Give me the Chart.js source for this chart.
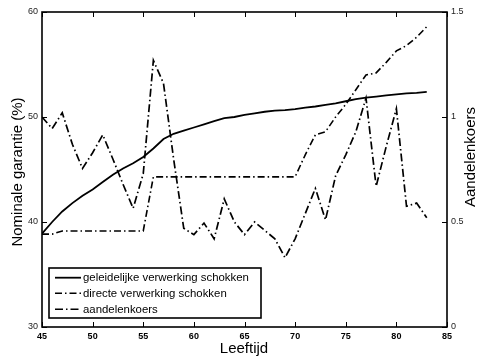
<!DOCTYPE html>
<html><head><meta charset="utf-8">
<script src="https://cdn.jsdelivr.net/npm/chart.js@4/dist/chart.umd.min.js"></script>
<style>html,body{margin:0;padding:0;background:#fff}#w{width:477px;height:358px}</style>
</head><body><div id="w"><canvas id="c" width="477" height="358"></canvas></div>
<script>
const ages = [45,46,47,48,49,50,51,52,53,54,55,56,57,58,59,60,61,62,63,64,65,66,67,68,69,70,71,72,73,74,75,76,77,78,79,80,81,82,83];
const geleidelijke = [38.9,40.0,41.0,41.8,42.5,43.1,43.8,44.5,45.1,45.6,46.2,47.0,47.9,48.4,48.7,49.0,49.3,49.6,49.9,50.0,50.2,50.35,50.5,50.6,50.65,50.75,50.9,51.0,51.15,51.3,51.5,51.7,51.85,51.95,52.05,52.15,52.25,52.3,52.4];
const directe = [38.85,38.85,39.15,39.15,39.15,39.15,39.15,39.15,39.15,39.15,39.15,44.3,44.3,44.3,44.3,44.3,44.3,44.3,44.3,44.3,44.3,44.3,44.3,44.3,44.3,44.3,46.4,48.3,48.6,50.0,51.2,52.6,54.0,54.2,55.2,56.3,56.8,57.6,58.6];
const aandelenkoers = [1.00,0.945,1.02,0.87,0.755,0.83,0.915,0.80,0.68,0.565,0.73,1.27,1.16,0.80,0.47,0.44,0.495,0.42,0.61,0.50,0.44,0.50,0.46,0.42,0.33,0.42,0.54,0.66,0.51,0.72,0.82,0.93,1.09,0.67,0.86,1.04,0.575,0.59,0.52];
const xTicks = [45,50,55,60,65,70,75,80,85];
const leftTicks = [30,40,50,60];
const rightTicks = [0,0.5,1,1.5];
const seriesNames = ['geleidelijke verwerking schokken','directe verwerking schokken','aandelenkoers'];
const titles = {x:'Leeftijd', left:'Nominale garantie (%)', right:'Aandelenkoers'};

const FONT = '"Liberation Sans", Arial, Helvetica, sans-serif';
const dashStock = [8,3,1.5,3];
const dashDirect = [7,3,1.5,3];

function pts(ys){ return ages.map((a,i)=>({x:a,y:ys[i]})); }

const frameAndTicks = {
  id:'frameAndTicks',
  afterDraw(chart){
    const ctx = chart.ctx, a = chart.chartArea;
    const sx = chart.scales.x, sl = chart.scales.y, sr = chart.scales.y2;
    ctx.save();
    ctx.strokeStyle = '#000';
    ctx.lineWidth = 1;
    const tl = 5;
    ctx.beginPath();
    xTicks.forEach(v=>{ const p = Math.round(sx.getPixelForValue(v))+0.5;
      ctx.moveTo(p,a.bottom); ctx.lineTo(p,a.bottom-tl);
      ctx.moveTo(p,a.top); ctx.lineTo(p,a.top+tl); });
    leftTicks.forEach(v=>{ const p = Math.round(sl.getPixelForValue(v))+0.5;
      ctx.moveTo(a.left,p); ctx.lineTo(a.left+tl,p); });
    rightTicks.forEach(v=>{ const p = Math.round(sr.getPixelForValue(v))+0.5;
      ctx.moveTo(a.right,p); ctx.lineTo(a.right-tl,p); });
    ctx.stroke();
    ctx.lineWidth = 1.6;
    ctx.strokeRect(a.left, a.top, a.right-a.left, a.bottom-a.top);

    // legend box
    const lx=49, ly=268, lw=212, lh=50;
    ctx.fillStyle='#fff';
    ctx.fillRect(lx,ly,lw,lh);
    ctx.lineWidth=1.6;
    ctx.strokeRect(lx,ly,lw,lh);
    const rows=[277.7,293.3,309.3];
    const dashes=[[],dashDirect,dashStock];
    const widths=[1.8,1.6,1.6];
    ctx.font = '11.4px '+FONT;
    ctx.textBaseline='middle';
    ctx.textAlign='left';
    rows.forEach((y,i)=>{
      ctx.beginPath();
      ctx.setLineDash(dashes[i]);
      ctx.lineWidth=widths[i];
      ctx.moveTo(55,y); ctx.lineTo(81,y); ctx.stroke();
      ctx.setLineDash([]);
      ctx.fillStyle='#000';
      ctx.fillText(seriesNames[i],83,y+0.5);
    });

    // axis titles
    ctx.fillStyle='#000';
    ctx.font='15px '+FONT;
    ctx.textAlign='center';
    ctx.textBaseline='middle';
    ctx.fillText(titles.x, 244, 349);
    ctx.save(); ctx.translate(18,172); ctx.rotate(-Math.PI/2); ctx.fillText(titles.left,0,0); ctx.restore();
    ctx.save(); ctx.translate(471,157); ctx.rotate(-Math.PI/2); ctx.fillText(titles.right,0,0); ctx.restore();
    ctx.restore();
  }
};

new Chart(document.getElementById('c'), {
  type:'line',
  data:{datasets:[
    {label:seriesNames[0], data:pts(geleidelijke), yAxisID:'y', borderColor:'#000', borderWidth:1.8, pointRadius:0, tension:0, fill:false},
    {label:seriesNames[1], data:pts(directe), yAxisID:'y', borderColor:'#000', borderWidth:1.6, borderDash:dashDirect, pointRadius:0, tension:0, fill:false},
    {label:seriesNames[2], data:pts(aandelenkoers), yAxisID:'y2', borderColor:'#000', borderWidth:1.7, borderDash:dashStock, pointRadius:0, tension:0, fill:false}
  ]},
  options:{
    responsive:false, animation:false, devicePixelRatio:1,
    layout:{padding:{top:12,left:0,right:0,bottom:0}},
    plugins:{legend:{display:false}, tooltip:{enabled:false}},
    scales:{
      x:{type:'linear', min:45, max:85, position:'bottom',
         afterBuildTicks(s){ s.ticks = xTicks.map(v=>({value:v})); },
         afterFit(s){ s.height=31; },
         grid:{display:false, drawTicks:false}, border:{display:false},
         ticks:{padding:4, color:'#000', font:{family:FONT, size:9, weight:'bold'}, maxRotation:0, autoSkip:false}},
      y:{type:'linear', min:30, max:60, position:'left',
         afterBuildTicks(s){ s.ticks = leftTicks.map(v=>({value:v})); },
         afterFit(s){ s.width=42; },
         grid:{display:false, drawTicks:false}, border:{display:false},
         ticks:{padding:4, color:'#222', font:{family:FONT, size:9}}},
      y2:{type:'linear', min:0, max:1.5, position:'right',
         afterBuildTicks(s){ s.ticks = rightTicks.map(v=>({value:v})); },
         afterFit(s){ s.width=30; },
         grid:{display:false, drawTicks:false}, border:{display:false},
         ticks:{padding:4, color:'#222', font:{family:FONT, size:9}, callback:v=>String(v)}}
    }
  },
  plugins:[frameAndTicks]
});
</script></body></html>
